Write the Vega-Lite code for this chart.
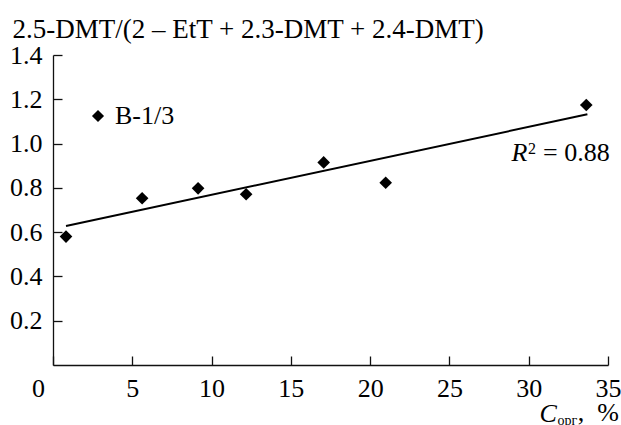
{
  "$schema": "https://vega.github.io/schema/vega-lite/v6.json",
  "width": 555,
  "height": 310,
  "autosize": "none",
  "padding": {"left": 53, "top": 55, "right": 13, "bottom": 60},
  "background": "white",
  "config": {
    "font": "Liberation Serif",
    "view": {"stroke": null},
    "axis": {
      "grid": false,
      "domainColor": "#111",
      "tickColor": "#111",
      "labelColor": "#000",
      "titleColor": "#000",
      "labelFont": "Liberation Serif",
      "titleFont": "Liberation Serif",
      "labelFontSize": 26,
      "titleFontSize": 26,
      "titleFontWeight": "normal",
      "domainWidth": 1.3,
      "tickWidth": 1.3,
      "labelFlush": false,
      "labelOverlap": false
    },
    "legend": {"labelFont": "Liberation Serif"},
    "text": {"font": "Liberation Serif"}
  },
  "datasets": {
    "points": [
      {"x": 0.82, "y": 0.58, "series": "B-1/3"},
      {"x": 5.62, "y": 0.753, "series": "B-1/3"},
      {"x": 9.15, "y": 0.798, "series": "B-1/3"},
      {"x": 12.18, "y": 0.771, "series": "B-1/3"},
      {"x": 17.07, "y": 0.915, "series": "B-1/3"},
      {"x": 20.98, "y": 0.823, "series": "B-1/3"},
      {"x": 33.63, "y": 1.174, "series": "B-1/3"}
    ],
    "fit": [
      {"x": 0.82, "y": 0.628},
      {"x": 33.7, "y": 1.132}
    ],
    "rLetter": [{"x": 29.92, "y": 0.921, "t": "R"}],
    "rSup": [{"x": 29.95, "y": 0.953, "t": "2"}],
    "rVal": [{"x": 30.9, "y": 0.921, "t": "= 0.88"}],
    "sub": [{"x": 31.82, "y": -0.273, "t": "орг"}],
    "unit": [{"x": 33.1, "y": -0.252, "t": ", \u00a0%"}]
  },
  "layer": [
    {
      "data": {"name": "fit"},
      "mark": {"type": "line", "color": "black", "strokeWidth": 2},
      "encoding": {
        "x": {
          "field": "x", "type": "quantitative",
          "scale": {"domain": [0, 35], "nice": false, "zero": false},
          "axis": {
            "values": [0, 5, 10, 15, 20, 25, 30, 35],
            "tickSize": -9,
            "labelPadding": 19,
            "labelOffset": {"condition": {"test": "datum.value === 0", "value": -15}, "value": 0},
            "title": "C",
            "titleFontStyle": "italic",
            "titleX": 486,
            "titleY": 56,
            "titleAlign": "left",
            "titleBaseline": "alphabetic",
            "titleAnchor": null
          }
        },
        "y": {
          "field": "y", "type": "quantitative",
          "scale": {"domain": [0, 1.4], "nice": false},
          "axis": {
            "values": [0.2, 0.4, 0.6, 0.8, 1.0, 1.2, 1.4],
            "format": ".1f",
            "tickSize": -9,
            "labelPadding": 20,
            "title": "2.5-DMT/(2 – EtT + 2.3-DMT + 2.4-DMT)",
            "titleFontSize": 27,
            "titleAngle": 0,
            "titleAlign": "left",
            "titleBaseline": "alphabetic",
            "titleX": -41,
            "titleY": -18,
            "titleAnchor": null
          }
        }
      }
    },
    {
      "data": {"name": "points"},
      "mark": {"type": "point", "shape": "diamond", "filled": true, "size": 160, "opacity": 1},
      "encoding": {
        "x": {"field": "x", "type": "quantitative"},
        "y": {"field": "y", "type": "quantitative"},
        "color": {
          "field": "series", "type": "nominal",
          "scale": {"range": ["black"]},
          "legend": {
            "title": null,
            "orient": "none",
            "legendX": 32,
            "legendY": 48,
            "symbolType": "diamond",
            "symbolSize": 100,
            "symbolFillColor": "black",
            "symbolStrokeColor": "black",
            "symbolOpacity": 1,
            "labelFontSize": 26,
            "labelColor": "black",
            "labelFont": "Liberation Serif",
            "labelOffset": 4
          }
        }
      }
    },
    {
      "data": {"name": "rLetter"},
      "mark": {"type": "text", "align": "right", "baseline": "alphabetic", "fontSize": 26, "fontStyle": "italic", "color": "black", "font": "Liberation Serif"},
      "encoding": {"x": {"field": "x", "type": "quantitative"}, "y": {"field": "y", "type": "quantitative"}, "text": {"field": "t"}}
    },
    {
      "data": {"name": "rSup"},
      "mark": {"type": "text", "align": "left", "baseline": "alphabetic", "fontSize": 16, "color": "black", "font": "Liberation Serif"},
      "encoding": {"x": {"field": "x", "type": "quantitative"}, "y": {"field": "y", "type": "quantitative"}, "text": {"field": "t"}}
    },
    {
      "data": {"name": "rVal"},
      "mark": {"type": "text", "align": "left", "baseline": "alphabetic", "fontSize": 26, "color": "black", "font": "Liberation Serif"},
      "encoding": {"x": {"field": "x", "type": "quantitative"}, "y": {"field": "y", "type": "quantitative"}, "text": {"field": "t"}}
    },
    {
      "data": {"name": "sub"},
      "mark": {"type": "text", "align": "left", "baseline": "alphabetic", "fontSize": 14, "color": "black", "font": "Liberation Serif"},
      "encoding": {"x": {"field": "x", "type": "quantitative"}, "y": {"field": "y", "type": "quantitative"}, "text": {"field": "t"}}
    },
    {
      "data": {"name": "unit"},
      "mark": {"type": "text", "align": "left", "baseline": "alphabetic", "fontSize": 26, "color": "black", "font": "Liberation Serif"},
      "encoding": {"x": {"field": "x", "type": "quantitative"}, "y": {"field": "y", "type": "quantitative"}, "text": {"field": "t"}}
    }
  ]
}
